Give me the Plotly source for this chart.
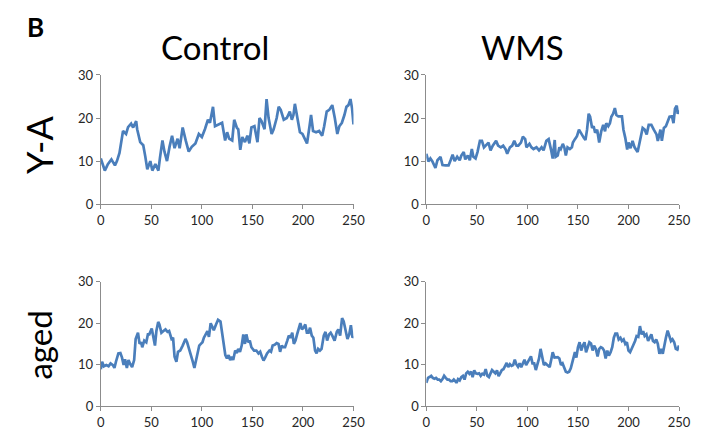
import plotly.graph_objects as go

# Control, Y-A
ctl_ya_x = [0,4,7,10.5,14,16,18.5,22,25,27,30,32,35,36,39,42,44,46,49,51,54,57,58.5,61,63,65.5,68,70.5,73,76,78,81,84,87,90,93.6,97,100,103,106,108,111,113,117,120,123,125,127,130,132,134.5,136,138,140,142.6,145,147,149,152,155,157,159,162,164,166,169,171,174,176,178,181,184,187,189,190.6,192,194,197,199.5,202,204,206.5,208,210,213,216,219,221,223.5,226,229,231.5,234,236,238.5,241,243,245,247,248.6,250]
ctl_ya_y = [10.6,7.8,9.3,10.4,9,10,11.9,17,16.3,17.9,18.7,17.8,19.3,17.4,14.4,13.7,11.1,8.1,10,7.8,9.3,7.8,10.7,14.8,12.2,10,13.3,15.9,13,15.2,13,17.8,14.8,12.2,13.3,14.1,16.3,15.6,17.4,19.6,18.9,22.6,18.1,18.5,18.9,14.8,16.7,15.2,14.8,19.6,17.8,17.4,12.6,15.6,14.4,15.9,14.1,17.8,18.1,14.4,20,19.3,17.4,24.4,20,16.3,17.4,20,22.6,21.9,19.6,20,21.5,19.6,20.7,23.3,20.4,16.7,16.3,15.2,14.1,18.1,20.7,17,16.7,17,15.9,18.1,21.5,21.9,23,20,16.3,18.1,18.9,20.7,22.6,23,24.4,22.2,18.5]

# WMS, Y-A
wms_ya_x = [0,2,4,6,9,11,14,16,19,22,24,26,28,30.5,33,34.6,37,38.5,41,43,45,46.5,48.7,50.6,53,55,57,59,61.5,63.5,65.7,69,71,73.7,76,78.5,80,82.7,85,87,89,91,93.6,95.5,97.8,99,102,104,106,109,111.5,114,116,118.7,121,123.5,125,127,128,130,131.6,133,135,136.5,138,139.7,142,144,145,147,149,151,153.5,155.8,157.4,159,160.6,162,164,165.5,167,169,171,173,175,176.8,178,180,181.6,183,184.8,186.5,188,190,193.5,195,196.8,198.7,200,202,204,206,209,211,214,216,218,220,222.6,225,227.7,229,231.6,233,235,237,238.7,240.6,243,244.5,246,247.7,248.7,250]
wms_ya_y = [11.7,9.9,10.6,9.9,8.4,10.2,11,9.1,9,9,10.2,11.5,10,11,10.2,11.3,12.1,10.4,11.3,10.2,12.8,11,10.6,12.1,14.7,14.7,13.2,13.6,14.3,12.5,13.6,14.7,13.6,13.2,13.6,12.7,11.7,13.2,13.6,14.7,13.6,13.6,14.3,15.7,15.1,13.2,14,13.2,12.8,13.2,12.5,13.2,12.5,14.7,15.1,12.5,10.6,14.9,11,11.3,13.2,12.8,14,13.2,11.3,13.2,12.8,13.2,14.3,15.1,15.8,17.3,16.2,15.4,14.9,17.3,21,20.3,17.7,18.1,16.6,17.3,14.3,16.9,18.4,16.9,18.8,18.1,18.8,20.3,21,22.3,20.7,20.4,20.4,17.3,15.4,12.7,14.3,13,14.7,13.2,12.1,14.7,17.7,17.3,16.2,18.4,18.4,17.3,16.2,14.7,17.3,14.7,17.7,18.1,19.2,20.3,20.4,18.8,22.2,22.9,21,21.8]

# Control, aged
ctl_ag_x = [0,1.3,3,5.5,7.7,9.7,12,13.5,15,17.4,19.4,21,22.6,24,25.8,27.4,29,31,33,34.5,36.8,38.4,40,41,43,45,46.6,48,50.4,52,53.6,55,56.8,58,60,62,64,66,67.6,70,71.5,73,74.8,76.4,78.6,81,83.8,85.4,87,89,91,92.6,94.8,97.4,99,100.6,102,103.8,105.5,107,108.7,110,111.8,114,116,118.4,120,121.6,123.2,124.8,126.5,128,129.7,131,133,134.5,136,137.7,139.4,141,142.6,144,145.8,147.4,149,151.6,153.9,156,157.7,159.4,161,162.6,164.5,166.8,168.4,170,172,174,175.8,177.4,179,180.6,182.3,184.5,186,187.7,189.4,191,192.6,194.2,195.8,197.4,199,200.6,202.3,203.9,205.5,207,208.7,210.3,212,213.5,215,216.8,218.4,220.6,222.3,223.9,225.8,227.4,229,231.3,233.5,235,236.8,238.7,240.3,242,244,245.8,247.4,249,250]
ctl_ag_y = [8.9,10.7,9.6,9.9,9.6,10.3,9.9,9.2,10.7,12.7,12.8,11.7,9.9,11.3,9.2,11.1,10.2,9.4,11.1,16.2,17.7,15,15.4,14.2,15.8,15.4,17.3,17.3,18.7,16.5,14.6,18.1,20.3,19.7,17.7,18.1,18.5,17.9,18.1,16.2,16.5,11.9,10.7,13.1,13.4,14.6,16.2,15.4,14.1,12.8,10.7,9.2,11.5,14.6,15,15.4,16.5,17.2,18.1,16.7,20,19.3,18.3,19.7,20.8,20.4,17.3,14.2,12.3,11.5,12.3,11.1,11.9,11.1,13.4,12.8,13.8,13.1,14.6,17.3,15,17.3,15.4,15.8,14.2,13.4,13.4,12.7,13.1,11.9,11,11.7,12.7,13.4,13.1,14.6,14.8,15.2,15,13.1,14.6,14.2,14.2,15.8,17,16.5,17.7,15,15.8,17.3,18.5,20,18.5,18.9,19.7,17.7,17.7,18.9,17,16.5,13.4,12.7,13.8,13.4,13.8,17,17.9,15.8,17.3,17.7,17,15.8,17.9,18.5,17,21.2,20.4,18.1,16.2,17.3,19.5,16.5,16.9]

# WMS, aged
wms_ag_x = [0,1.6,3.2,4.8,6.4,8,9.6,11.2,12.8,14.4,16,17.6,19.2,20.8,22.4,24,25.6,27.2,28.8,29.8,31.4,33,34.6,36.2,37.8,39.4,41,42.6,44.2,45.8,47.4,49,50.6,52.2,53.8,55.4,57,58.7,60.3,61.9,63.5,65,66.7,68.3,69.9,71.5,73,74.7,76.3,77.9,79.5,81,82.7,84.3,85.9,87.5,89,90.7,92.3,93.9,95.5,97.1,98.7,100.3,101.9,103.5,105,106.7,108.3,110,111.5,113,114.7,116.3,118,120.3,122,123.5,125,126.8,128.4,130,131.6,133.2,134.8,136.5,138,139.7,141.3,142.9,144.5,146,147,148.4,150,151.6,153.2,154.8,156.5,158,159.7,161.3,162.9,164.5,166,167.7,169.4,171,172.6,174.2,175.8,177.4,179,180.6,182.3,183.9,185.5,187,188.7,190.3,192,193.5,195.2,196.8,198.4,200,201.6,203.2,204.8,206.5,208,209.7,211.3,213,214.5,216,217.7,219.4,221,222.6,224.2,225.8,227.4,229,230.6,232.3,233.9,235.5,237,238.7,240.3,242,243.5,245.2,246.8,248.4,250]
wms_ag_y = [5.6,6.8,7,7.3,6.8,6.6,6.8,6.4,6.4,6,6.5,7.3,6.8,6.4,6.4,6,6,6.4,6,5.6,6.5,6.2,7,7.3,6.4,7.9,8.3,7.8,8.3,7,8.6,7.9,7.8,7.9,7.3,7.8,7.6,8.9,7.3,7,7.9,8.7,8.3,7.9,8.6,7.2,7.9,8.7,8.9,9.5,10.4,9.4,10.1,9.7,9.9,11.2,10.1,9.5,10.3,9.4,10.4,11.2,9.9,10.7,11.1,12,10.3,10.3,8.7,9.9,11.5,13.8,11.7,9.9,10.3,9.9,9.4,11.1,13,11.7,11.8,11.8,11.5,9.9,10.3,9.1,8.3,8.1,8.3,9.1,10.7,11.5,13,11.7,14.2,15.4,13.4,14.6,15.4,13,14.6,15.4,15.1,13.4,14.6,13.8,12,13.8,14.2,14,13.4,11.5,13.4,12.2,13,14.2,16.5,17.5,17.5,16.1,16.5,15.7,16.1,15,15.4,13.4,13,13.8,14.6,15.7,16.9,16.7,19.3,17.3,18.1,16.9,17.3,15.7,16.5,17.3,15.7,15.4,16.1,15,12.6,13.8,12.6,15,16.5,18.2,16.9,15.7,16.1,15.4,13.8,13.6,14.6]

panels = [
    (ctl_ya_x, ctl_ya_y, 1),
    (wms_ya_x, wms_ya_y, 2),
    (ctl_ag_x, ctl_ag_y, 3),
    (wms_ag_x, wms_ag_y, 4),
]

W, H = 715, 443
xdom_left = [99 / W, 357.5 / W]
xdom_right = [432 / W, 690.5 / W]
ydom_top = [(H - 203.5) / H, (H - 69.5) / H]
ydom_bot = [(H - 413) / H, (H - 284) / H]

LINE = "#4A7EBB"
AX = "#8C8C8C"

fig = go.Figure()
for xs, ys, i in panels:
    sfx = "" if i == 1 else str(i)
    fig.add_trace(go.Scatter(x=xs, y=ys, mode="lines",
                             line=dict(color=LINE, width=2.7),
                             xaxis="x" + sfx, yaxis="y" + sfx, showlegend=False,
                             hoverinfo="skip"))

doms = {1: (xdom_left, ydom_top), 2: (xdom_right, ydom_top),
        3: (xdom_left, ydom_bot), 4: (xdom_right, ydom_bot)}
tickfont = dict(family="Lato, sans-serif", size=13, color="#262626")
layout = {}
for i, (xd, yd) in doms.items():
    sfx = "" if i == 1 else str(i)
    layout["xaxis" + sfx] = dict(domain=xd, range=[0, 250], anchor="y" + sfx,
                                 tickvals=[0, 50, 100, 150, 200, 250],
                                 showgrid=False, zeroline=False, showline=True,
                                 linecolor=AX, linewidth=1, ticks="outside",
                                 ticklen=4, tickcolor=AX, tickfont=tickfont)
    layout["yaxis" + sfx] = dict(domain=yd, range=[0, 30], anchor="x" + sfx,
                                 tickvals=[0, 10, 20, 30],
                                 showgrid=False, zeroline=False, showline=True,
                                 linecolor=AX, linewidth=1, ticks="outside",
                                 ticklen=4, tickcolor=AX, tickfont=tickfont)

fig.update_layout(
    width=W, height=H, margin=dict(l=0, r=0, t=0, b=0),
    paper_bgcolor="white", plot_bgcolor="white",
    **layout,
)

font_big = dict(family="Lato, sans-serif", size=33, color="black")
ann = [
    dict(text="<b>B</b>", x=32 / W, y=1 - 20 / H, font=dict(family="Lato, sans-serif", size=26, color="black")),
    dict(text="Control", x=216 / W, y=1 - 40 / H, font=font_big),
    dict(text="WMS", x=530 / W, y=1 - 40 / H, font=font_big),
    dict(text="Y-A", x=36 / W, y=1 - 142 / H, font=dict(family="Lato, sans-serif", size=36, color="black"), textangle=-90),
    dict(text="aged", x=36 / W, y=1 - 350 / H, font=font_big, textangle=-90),
]
for a in ann:
    a.update(xref="paper", yref="paper", showarrow=False, xanchor="center", yanchor="middle")
    fig.add_annotation(**a)

fig.write_html("out.html")
